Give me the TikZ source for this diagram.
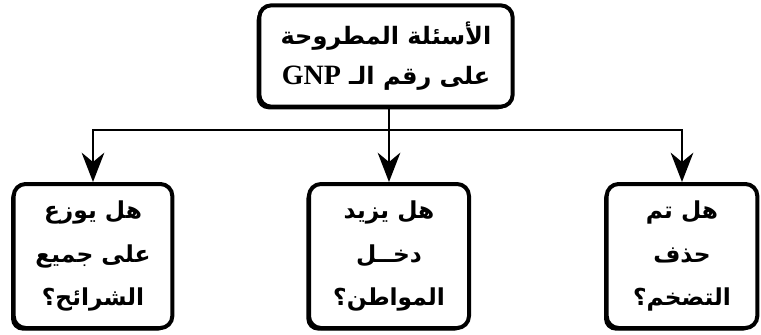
\documentclass[tikz,border=0pt]{standalone}
\usepackage{fontspec}
\usetikzlibrary{arrows.meta,shadows}
\TeXXeTstate=1
\newfontfamily\arabicfont[Script=Arabic]{DejaVu Sans}
\newfontfamily\gnpfont{Liberation Serif}

\tikzset{
  qbox/.style={draw, fill=white, line width=3pt, rounded corners=9pt,
    align=center, inner sep=2pt,
    general shadow={shadow xshift=-2pt, shadow yshift=-2pt, fill=black},
    font=\arabicfont\bfseries\fontsize{17.5}{32.5}\selectfont},
  link/.style={line width=1.6pt},
  tip/.style={-{Stealth[length=22pt,width=17pt,inset=7pt]}}
}

\begin{document}
\begin{tikzpicture}[x=0.75pt,y=-0.75pt]
\useasboundingbox (0,0) rectangle (761,335);

% main question
\node[qbox, minimum width=190pt, minimum height=76pt,
      font=\arabicfont\bfseries\fontsize{18}{30}\selectfont] (top) at (386,56)
  {\beginR الأسئلة المطروحة\endR\\ \beginR على رقم الـ \beginL{\gnpfont\bfseries\fontsize{21}{30}\selectfont GNP}\endL\endR};

% sub questions
\node[qbox, minimum width=119pt, minimum height=108pt] (q1) at (93,256)
  {\beginR هل يوزع\endR\\ \beginR على جميع\endR\\ \beginR الشرائح؟\endR};
\node[qbox, minimum width=120pt, minimum height=108pt] (q2) at (389,256)
  {\beginR هل يزيد\endR\\ \beginR دخــل\endR\\ \beginR المواطن؟\endR};
\node[qbox, minimum width=113pt, minimum height=108pt] (q3) at (682,256)
  {\beginR هل تم\endR\\ \beginR حذف\endR\\ \beginR التضخم؟\endR};

\coordinate (hub) at (389,130);
\draw[link] (top.south -| hub) -- (hub);
\foreach \q in {q1,q2,q3}
  \draw[link, tip] (hub) -| (\q.north);

\end{tikzpicture}
\end{document}
